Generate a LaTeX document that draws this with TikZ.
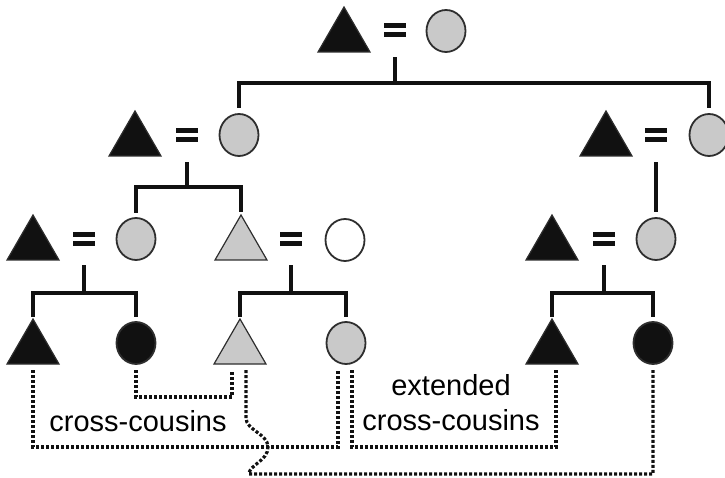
\documentclass[tikz,border=0pt]{standalone}
\usepackage{fontspec}
\setmainfont{Liberation Sans}
\usetikzlibrary{shapes.geometric}
\definecolor{ink}{HTML}{111111}
\definecolor{rim}{HTML}{2E2E2E}
\definecolor{kingray}{HTML}{C9C9C9}
\newcommand{\labelfont}{\fontsize{29}{35}\selectfont}
\tikzset{
  every node/.style={font=\labelfont},
  man/.style={regular polygon,regular polygon sides=3,minimum size=60pt,inner sep=0pt,
              outer sep=0pt,yshift=-6pt,fill=#1,draw=rim,line width=1.2pt},
  man/.default=ink,
  woman/.style={ellipse,minimum width=39pt,minimum height=42pt,inner sep=0pt,outer sep=0pt,
                fill=#1,draw=rim,line width=1.8pt},
  woman/.default=kingray,
  eq/.style={minimum width=22pt,minimum height=14pt,inner sep=0pt,
             path picture={
               \fill[ink] (path picture bounding box.north west) rectangle
                          ([yshift=-4.6pt]path picture bounding box.north east);
               \fill[ink] (path picture bounding box.south west) rectangle
                          ([yshift=4.6pt]path picture bounding box.south east);}},
  kin/.style={line width=3.4pt,draw=ink},
  cousin/.style={line width=3.2pt,draw=ink,dash pattern=on 3pt off 2pt},
}
\begin{document}
\begin{tikzpicture}[x=1pt,y=-1pt]
  \useasboundingbox (0,0) rectangle (725,478);
  % ---------- generation 1 ----------
  \node[man] (t1) at (344,31) {};
  \node[eq] (e1) at (395,30) {};
  \node[woman] (w1) at (446,31) {};

  % ---------- generation 2 ----------
  \node[man] (t2a) at (135,135) {};
  \node[eq] (e2a) at (187,135) {};
  \node[woman] (w2a) at (239,135) {};
  \node[man] (t2b) at (606,135) {};
  \node[eq] (e2b) at (656,135) {};
  \node[woman] (w2b) at (709,135) {};

  % ---------- generation 3 ----------
  \node[man] (t3a) at (33,239) {};
  \node[eq] (e3a) at (84,239) {};
  \node[woman] (w3a) at (136,239) {};
  \node[man=kingray] (t3b) at (241,239) {};
  \node[eq] (e3b) at (291,239) {};
  \node[woman=white] (w3b) at (345,240) {};
  \node[man] (t3c) at (552,239) {};
  \node[eq] (e3c) at (604,239) {};
  \node[woman] (w3c) at (656,239) {};

  % ---------- generation 4 ----------
  \node[man] (k1) at (33,343) {};
  \node[woman=ink] (k2) at (136,343) {};
  \node[man=kingray] (k3) at (240,343) {};
  \node[woman] (k4) at (346,343) {};
  \node[man] (k5) at (552,343) {};
  \node[woman=ink] (k6) at (653,343) {};

  % ---------- descent ----------
  \draw[kin] ([yshift=-5pt]e1 |- t1.south) -- ++(0,26) coordinate (m1);
  \draw[kin,shorten >=6pt] (m1) -| (w2a.north);
  \draw[kin,shorten >=6pt] (m1) -| (w2b.north);

  \draw[kin] ([yshift=-6pt]e2a |- t2a.south) -- ++(0,25) coordinate (m2);
  \draw[kin,shorten >=5pt] (m2) -| (w3a.north);
  \draw[kin,shorten >=3pt] (m2) -| (t3b.north);
  \draw[kin,shorten >=6pt] ([yshift=-6pt]e2b |- t2b.south) -- (w3c.north);

  \draw[kin] ([yshift=-5pt]e3a |- t3a.south) -- ++(0,28) coordinate (m3a);
  \draw[kin,shorten >=2pt] (m3a) -| (k1.north);
  \draw[kin,shorten >=5pt] (m3a) -| (k2.north);
  \draw[kin] ([yshift=-5pt]e3b |- t3b.south) -- ++(0,28) coordinate (m3b);
  \draw[kin,shorten >=2pt] (m3b) -| (k3.north);
  \draw[kin,shorten >=5pt] (m3b) -| (k4.north);
  \draw[kin] ([yshift=-5pt]e3c |- t3c.south) -- ++(0,28) coordinate (m3c);
  \draw[kin,shorten >=2pt] (m3c) -| (k5.north);
  \draw[kin,shorten >=5pt] (m3c) -| (k6.north);

  % ---------- cousin links ----------
  \coordinate (mid) at (0,397);
  \coordinate (low) at (0,447);
  \draw[cousin] ([yshift=-6pt]k1.south) |- ([xshift=-8pt]k4.south |- low)
        -- ([xshift=-8pt,yshift=-6pt]k4.south);
  \draw[cousin] ([yshift=-6pt]k2.south) |- ([xshift=-8pt]k3.south |- mid)
        -- ([xshift=-8pt,yshift=-6pt]k3.south);
  \draw[cousin] ([xshift=6pt,yshift=-6pt]k3.south) -- ++(0,48)
        .. controls +(0,12) and (268,434) .. (268,447)
        .. controls (268,461) and (249,465) .. (249,474) -| ([yshift=-6pt]k6.south);
  \draw[cousin] ([xshift=6pt,yshift=-6pt]k4.south) |- ([xshift=4pt]k5.south |- low)
        -- ([xshift=4pt,yshift=-6pt]k5.south);

  \node[anchor=base] (cc) at (138,431) {cross-cousins};
  \node[align=center] (ecc) at (451,403) {extended\\cross-cousins};
\end{tikzpicture}
\end{document}
